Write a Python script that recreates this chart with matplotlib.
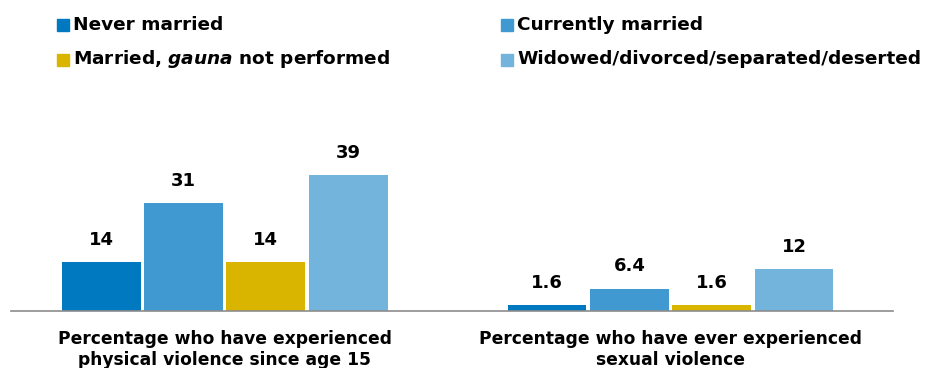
import matplotlib
matplotlib.use('Agg')
import matplotlib.pyplot as plt
import matplotlib.patches as mpatches
import numpy as np

plt.rcParams['font.family'] = ['DejaVu Sans']
plt.rcParams['font.weight'] = 'bold'
plt.rcParams['mathtext.fontset'] = 'custom'
plt.rcParams['mathtext.rm'] = 'DejaVu Sans:bold'
plt.rcParams['mathtext.it'] = 'DejaVu Sans:italic'

# Data
categories = ['Percentage who have experienced\nphysical violence since age 15',
              'Percentage who have ever experienced\nsexual violence']
series_names = ['Never married', 'Currently married',
                'Married, $\\mathit{gauna}$ not performed',
                'Widowed/divorced/separated/deserted']
never_married = [14, 1.6]
currently_married = [31, 6.4]
gauna_not_performed = [14, 1.6]
widowed = [39, 12]
value_labels = [['14', '1.6'], ['31', '6.4'], ['14', '1.6'], ['39', '12']]

colours = ['#0079c1', '#4199d1', '#d9b500', '#72b4db']
series = [never_married, currently_married, gauna_not_performed, widowed]

fig = plt.figure(figsize=(9.25, 3.68), dpi=100)
ax = fig.add_axes([11 / 925, 57 / 368, 882 / 925, 211 / 368])

x = np.arange(len(categories))
step = 0.1846
width = 0.177
for i, (vals, col) in enumerate(zip(series, colours)):
    pos = x + (i - 1.5) * step
    bars = ax.bar(pos, vals, width=width, color=col, zorder=2)
    for b, lab in zip(bars, value_labels[i]):
        ax.annotate(lab, (b.get_x() + b.get_width() / 2, b.get_height()),
                    xytext=(0, 9.5), textcoords='offset points',
                    ha='center', va='bottom', fontsize=13, fontweight='bold')

ax.set_xlim(-0.479, 1.499)
ax.set_ylim(0, 60.5)
ax.set_xticks(x)
ax.set_xticklabels(categories, fontsize=12.3, fontweight='bold', linespacing=1.2)
ax.tick_params(axis='x', length=0, pad=14)
ax.set_yticks([])
for s in ['top', 'right', 'left']:
    ax.spines[s].set_visible(False)
ax.spines['bottom'].set_color('#8c8c8c')
ax.spines['bottom'].set_linewidth(1.2)

# Legend drawn by hand in two columns: (x, square top, text baseline) in pixels
leg_pos = [(57, 19, 30), (501, 19, 30), (57, 54, 64), (501, 54, 64)]
for idx, (px, sq_top, base) in enumerate(leg_pos):
    fig.patches.append(mpatches.Rectangle((px / 925, 1 - (sq_top + 12) / 368), 12 / 925, 12 / 368,
                                          transform=fig.transFigure, color=colours[idx]))
    fig.text((px + 16) / 925, 1 - base / 368, series_names[idx], fontsize=13.3,
             fontweight='bold', va='baseline', ha='left')

fig.savefig('out.png', dpi=100)
